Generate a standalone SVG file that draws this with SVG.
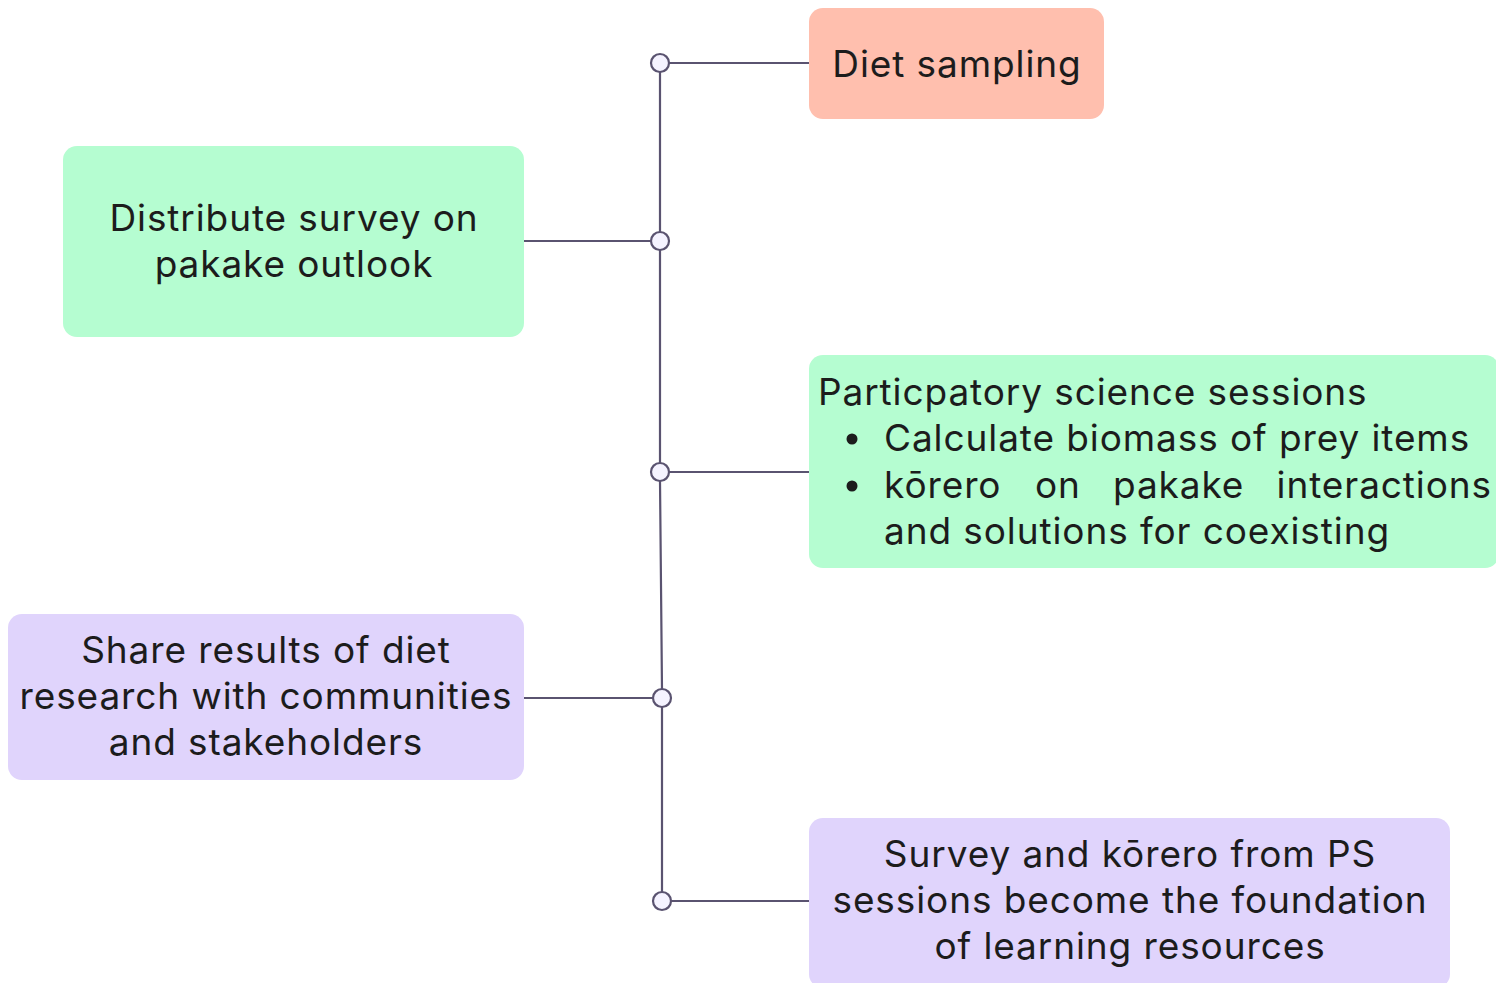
<svg xmlns="http://www.w3.org/2000/svg" width="1496" height="983" viewBox="0 0 1496 983">
<style>
.t{font-family:Inter,"Noto Sans","Liberation Sans",sans-serif;font-size:37px;letter-spacing:0.9px;fill:#1c1c1c}
.c{text-anchor:middle}
.e{text-anchor:end}
.ln{stroke:#5a5370;stroke-width:2.2;fill:none}
.dot{fill:#f5f3ff;stroke:#5a5370;stroke-width:2.2}
.b{fill:#1c1c1c}
</style>
<rect width="1496" height="983" fill="#ffffff"/>
<g id="connectors">
<path class="ln" d="M660 72 L660 232 M660 250 L660 463 M660 481 L662 689 M662 707 L662 892"/>
<path class="ln" d="M669 63 L809 63 M524 241 L651 241 M669 472 L809 472 M524 698 L653 698 M671 901 L809 901"/>
<circle class="dot" cx="660" cy="63" r="9"/>
<circle class="dot" cx="660" cy="241" r="9"/>
<circle class="dot" cx="660" cy="472" r="9"/>
<circle class="dot" cx="662" cy="698" r="9"/>
<circle class="dot" cx="662" cy="901" r="9"/>
</g>
<g id="diet">
<rect x="809" y="8" width="295" height="111" rx="14" fill="#ffbfae"/>
<text class="t c" x="957" y="77">Diet sampling</text>
</g>
<g id="distribute">
<rect x="63" y="146" width="461" height="191" rx="14" fill="#b5fdd1"/>
<text class="t c" x="294" y="231">Distribute survey on</text>
<text class="t c" x="294" y="277">pakake outlook</text>
</g>
<g id="participatory">
<rect x="809" y="355" width="690" height="213" rx="14" fill="#b5fdd1"/>
<text class="t" x="818" y="405">Particpatory science sessions</text>
<circle class="b" cx="852" cy="439" r="5.5"/>
<text class="t" x="884" y="451">Calculate biomass of prey items</text>
<circle class="b" cx="852" cy="486" r="5.5"/>
<text class="t" x="884" y="498">kōrero</text>
<text class="t" x="1035" y="498">on</text>
<text class="t" x="1113" y="498">pakake</text>
<text class="t e" x="1492" y="498">interactions</text>
<text class="t" x="884" y="544">and solutions for coexisting</text>
</g>
<g id="share">
<rect x="8" y="614" width="516" height="166" rx="14" fill="#e0d4fc"/>
<text class="t c" x="266" y="663">Share results of diet</text>
<text class="t c" x="266" y="709">research with communities</text>
<text class="t c" x="266" y="755">and stakeholders</text>
</g>
<g id="survey">
<rect x="809" y="818" width="641" height="170" rx="14" fill="#e0d4fc"/>
<text class="t c" x="1130" y="867">Survey and kōrero from PS</text>
<text class="t c" x="1130" y="913">sessions become the foundation</text>
<text class="t c" x="1130" y="959">of learning resources</text>
</g>
</svg>
